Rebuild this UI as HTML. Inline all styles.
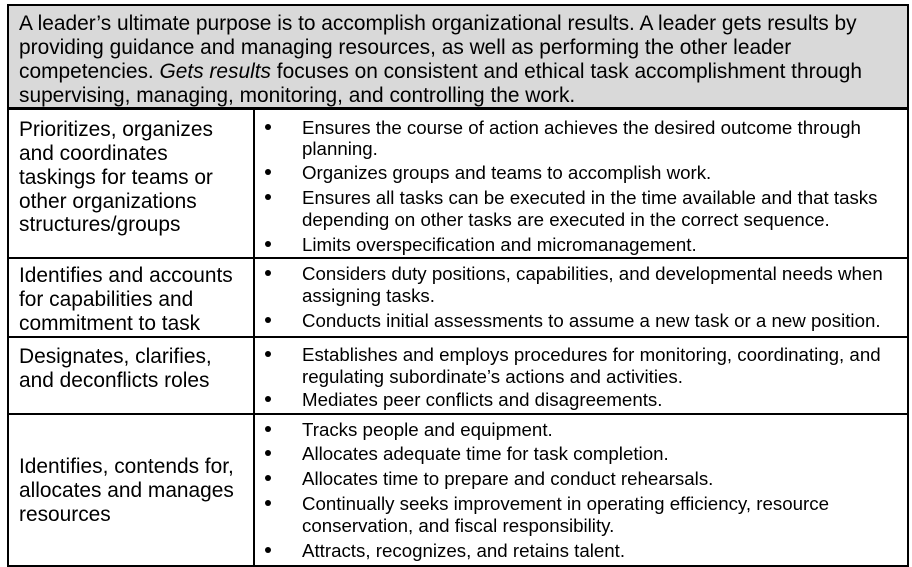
<!DOCTYPE html>
<html><head><meta charset="utf-8"><style>
html,body{margin:0;padding:0;background:#fff;}
body{width:912px;height:567px;position:relative;overflow:hidden;font-family:"Liberation Sans",Arial,sans-serif;color:#000;}
.box{position:absolute;}
.l{position:absolute;white-space:nowrap;}
.h{font-size:20.9px;line-height:24px;left:19px;}
.c{font-size:20.9px;line-height:24px;left:19px;}
.b{font-size:18.7px;line-height:21px;left:302px;}
.d{position:absolute;left:265px;width:6px;height:6px;border-radius:50%;background:#000;}
.hl{position:absolute;left:8px;width:900px;height:3px;background:#000;}
</style></head><body>
<div class="box" style="left:7px;top:4px;width:900px;height:104px;background:#d9d9d9;"></div>
<div class="box" style="left:7px;top:4px;width:898px;height:559px;border:2px solid #000;"></div>
<div class="box" style="left:253px;top:108px;width:2px;height:457px;background:#000;"></div>
<div class="hl" style="top:107px;"></div>
<div class="hl" style="top:257px;height:2px;"></div>
<div class="hl" style="top:336px;height:2px;"></div>
<div class="hl" style="top:413px;height:2px;"></div>

<div>
<div class="l h" style="top:12px">A leader’s ultimate purpose is to accomplish organizational results. A leader gets results by</div>
<div class="l h" style="top:36px">providing guidance and managing resources, as well as performing the other leader</div>
<div class="l h" style="top:60px">competencies. <i>Gets results</i> focuses on consistent and ethical task accomplishment through</div>
<div class="l h" style="top:84px">supervising, managing, monitoring, and controlling the work.</div>
</div>

<div>
<div class="l c" style="top:118px">Prioritizes, organizes</div>
<div class="l c" style="top:142px">and coordinates</div>
<div class="l c" style="top:166px">taskings for teams or</div>
<div class="l c" style="top:190px">other organizations</div>
<div class="l c" style="top:213px">structures/groups</div>
</div>
<div>
<div class="d" style="top:124px"></div><div class="l b" style="top:117px">Ensures the course of action achieves the desired outcome through</div>
<div class="l b" style="top:138px">planning.</div>
<div class="d" style="top:169px"></div><div class="l b" style="top:162px">Organizes groups and teams to accomplish work.</div>
<div class="d" style="top:194px"></div><div class="l b" style="top:187px">Ensures all tasks can be executed in the time available and that tasks</div>
<div class="l b" style="top:209px">depending on other tasks are executed in the correct sequence.</div>
<div class="d" style="top:241px"></div><div class="l b" style="top:234px">Limits overspecification and micromanagement.</div>
</div>

<div>
<div class="l c" style="top:264px">Identifies and accounts</div>
<div class="l c" style="top:288px">for capabilities and</div>
<div class="l c" style="top:312px">commitment to task</div>
</div>
<div>
<div class="d" style="top:270px"></div><div class="l b" style="top:263px">Considers duty positions, capabilities, and developmental needs when</div>
<div class="l b" style="top:285px">assigning tasks.</div>
<div class="d" style="top:317px"></div><div class="l b" style="top:310px">Conducts initial assessments to assume a new task or a new position.</div>
</div>

<div>
<div class="l c" style="top:345px">Designates, clarifies,</div>
<div class="l c" style="top:369px">and deconflicts roles</div>
</div>
<div>
<div class="d" style="top:351px"></div><div class="l b" style="top:344px">Establishes and employs procedures for monitoring, coordinating, and</div>
<div class="l b" style="top:366px">regulating subordinate’s actions and activities.</div>
<div class="d" style="top:396px"></div><div class="l b" style="top:389px">Mediates peer conflicts and disagreements.</div>
</div>

<div>
<div class="l c" style="top:455px">Identifies, contends for,</div>
<div class="l c" style="top:479px">allocates and manages</div>
<div class="l c" style="top:503px">resources</div>
</div>
<div>
<div class="d" style="top:426px"></div><div class="l b" style="top:419px">Tracks people and equipment.</div>
<div class="d" style="top:450px"></div><div class="l b" style="top:443px">Allocates adequate time for task completion.</div>
<div class="d" style="top:475px"></div><div class="l b" style="top:468px">Allocates time to prepare and conduct rehearsals.</div>
<div class="d" style="top:500px"></div><div class="l b" style="top:493px">Continually seeks improvement in operating efficiency, resource</div>
<div class="l b" style="top:515px">conservation, and fiscal responsibility.</div>
<div class="d" style="top:547px"></div><div class="l b" style="top:540px">Attracts, recognizes, and retains talent.</div>
</div>
</body></html>
